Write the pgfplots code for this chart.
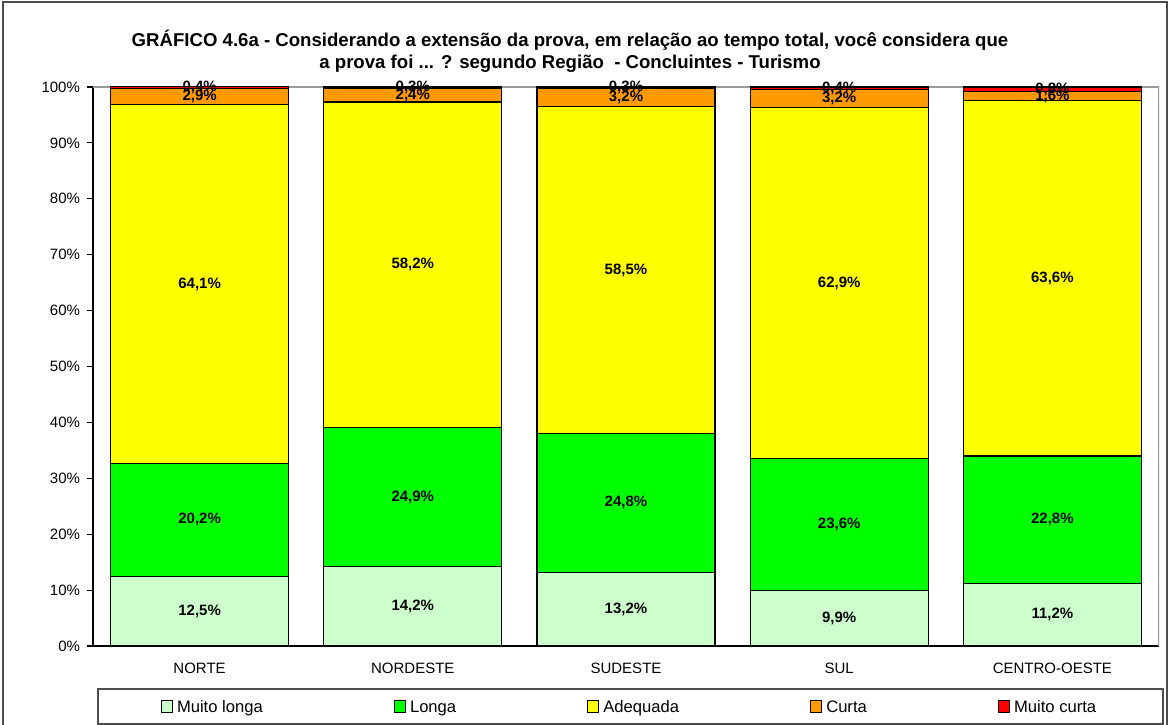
\documentclass[border=0pt]{standalone}
\usepackage{pgfplots}
\pgfplotsset{compat=1.18}
\usepackage{pgfplotstable}
\usepackage{fontspec}
\setmainfont{Liberation Sans}

\definecolor{cmlonga}{RGB}{204,255,204}
\definecolor{clonga}{RGB}{0,255,0}
\definecolor{cadeq}{RGB}{255,255,0}
\definecolor{ccurta}{RGB}{255,153,0}
\definecolor{cmcurta}{RGB}{255,0,0}

% shares (%) per region
\pgfplotstableread{
x ml lo ad cu mc
0 12.5 20.2 64.1 2.9 0.4
1 14.2 24.9 58.2 2.4 0.3
2 13.2 24.8 58.5 3.2 0.3
3 9.9 23.6 62.9 3.2 0.4
4 11.2 22.8 63.6 1.6 0.8
}\data

% label positions (middle of each segment) and texts
\pgfplotstableread{
x y lab
0 6.25 12,5
0 22.6 20,2
0 64.75 64,1
0 98.25 2,9
0 99.9 0,4
1 7.1 14,2
1 26.65 24,9
1 68.2 58,2
1 98.5 2,4
1 99.85 0,3
2 6.6 13,2
2 25.6 24,8
2 67.25 58,5
2 98.1 3,2
2 99.85 0,3
3 4.95 9,9
3 21.7 23,6
3 64.95 62,9
3 98.0 3,2
3 99.8 0,4
4 5.6 11,2
4 22.6 22,8
4 65.8 63,6
4 98.4 1,6
4 99.6 0,8
}\labels

\pgfplotsset{
    base/.style={
        at={(46.5pt,39pt)}, anchor=south west,
        scale only axis, width=533pt, height=279.5pt,
        xmin=-0.5, xmax=4.5, ymin=0, ymax=100,
    },
    segment/.style={fill=#1, draw=black, line width=0.6pt},
}

\begin{document}
\begin{tikzpicture}
\useasboundingbox (0,0) rectangle (584.5pt,362pt);
% outer chart frame
\draw[black!70, line width=0.8pt] (1.5pt,-3pt) -- (1.5pt,361pt) -- (583.5pt,361pt) -- (583.5pt,-3pt);

\node[font=\fontsize{9.3}{11}\selectfont\bfseries, align=center] at (285pt,336.5pt)
    {GRÁFICO 4.6a - Considerando a extensão da prova, em relação ao tempo total, você considera que\\
     a prova foi ... ? segundo Região \ - Concluintes - Turismo};

\begin{axis}[
    base,
    ybar stacked, bar width=89pt,
    axis x line*=bottom, axis y line*=left,
    axis line style={black, line width=0.6pt},
    xtick={0,1,2,3,4},
    xticklabels={NORTE, NORDESTE, SUDESTE, SUL, CENTRO-OESTE},
    x tick style={draw=none},
    extra x ticks={0.5,1.5,2.5,3.5,4.5},
    extra x tick labels={},
    extra x tick style={tick style={draw=black, line width=0.6pt}, major tick length=3pt, tick align=outside},
    ytick={0,10,...,100},
    yticklabels={0\%,10\%,20\%,30\%,40\%,50\%,60\%,70\%,80\%,90\%,100\%},
    y tick style={black, line width=0.6pt}, major tick length=3pt, tick align=outside,
    tick label style={font=\fontsize{7.5}{9}\selectfont},
    xticklabel style={yshift=-2pt},
    legend columns=5,
    legend style={at={(0.00375,-0.141)}, anchor=south west,
        draw=black!70, line width=0.8pt,
        font=\fontsize{8.3}{9}\selectfont,
        inner xsep=31.5pt, inner ysep=1.5pt,
        nodes={text height=1.55ex, text depth=0.45ex},
        /tikz/every even column/.append style={column sep=63.5pt}},
    legend image code/.code={\draw[#1, line width=0.5pt] (0pt,-2.8pt) rectangle (5.6pt,2.8pt);},
]
\addplot[segment=cmlonga] table[x=x, y=ml]{\data};
\addlegendentry{Muito longa}
\addplot[segment=clonga] table[x=x, y=lo]{\data};
\addlegendentry{Longa}
\addplot[segment=cadeq] table[x=x, y=ad]{\data};
\addlegendentry{Adequada}
\addplot[segment=ccurta] table[x=x, y=cu]{\data};
\addlegendentry{Curta}
\addplot[segment=cmcurta] table[x=x, y=mc]{\data};
\addlegendentry{Muito curta}
\draw[black!40, line width=0.6pt] (rel axis cs:0,1) -- (rel axis cs:1,1) -- (rel axis cs:1,0);
\end{axis}

\begin{axis}[
    base, hide axis, clip=false,
]
\addplot[only marks, mark=none,
    nodes near coords={\pgfplotspointmeta\%},
    point meta=explicit symbolic,
    every node near coord/.append style={anchor=center, font=\fontsize{7.5}{9}\selectfont\bfseries, inner sep=0pt},
] table[x=x, y=y, meta=lab]{\labels};
\end{axis}
\end{tikzpicture}
\end{document}
